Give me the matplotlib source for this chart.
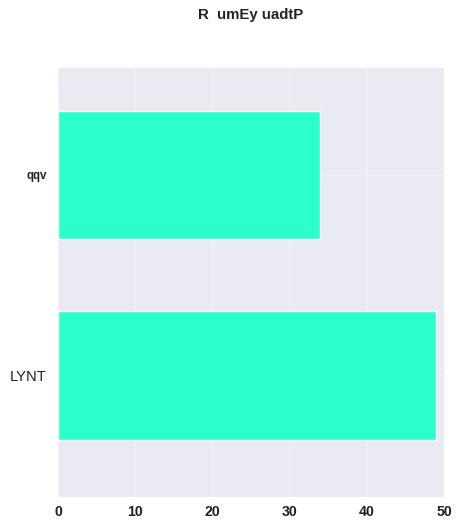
import matplotlib
matplotlib.use("Agg")
import matplotlib.pyplot as plt
import seaborn as sns

categories = ["LYNT", "qqv"]
values = [49, 34]
xticks = [0, 10, 20, 30, 40, 50]

sns.set_style("darkgrid")
plt.rcParams['font.family'] = ['Liberation Sans', 'DejaVu Sans']

fig = plt.figure(figsize=(4.62, 5.28), dpi=100)
left, right, bottom, top = 0.1255, 0.961, 0.0593, 0.8718
ax = fig.add_axes([left, bottom, right - left, top - bottom])
ax.barh(range(len(categories)), values, height=0.64, color="#2bffcc")
ax.set_xlim(0, 50)
ax.set_ylim(-0.605, 1.535)
ax.set_xticks(xticks)
ax.set_xticklabels([str(t) for t in xticks], fontweight="bold", fontsize=10.2)
ax.set_yticks(range(len(categories)))
ax.set_yticklabels(categories)
labs = ax.get_yticklabels()
labs[0].set_fontsize(10.6)
labs[1].set_fontsize(8.3)
labs[1].set_fontweight("bold")
ax.tick_params(axis="y", length=0, pad=8, colors="#222222")
ax.tick_params(axis="x", length=0, pad=6, colors="#222222")
ax.grid(True, color="white", alpha=0.35, linewidth=1)
for s in ax.spines.values():
    s.set_visible(False)
fig.suptitle("R  umEy uadtP", fontweight="bold", fontsize=10.8, x=(left + right) / 2,
             y=0.985, color="#222222")
fig.savefig("out.png", dpi=100)
